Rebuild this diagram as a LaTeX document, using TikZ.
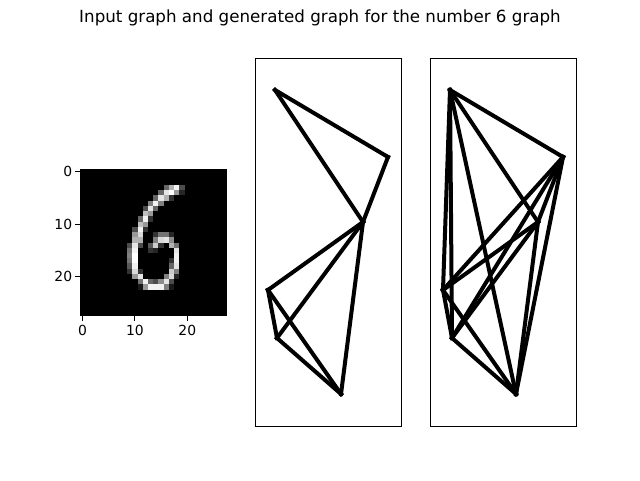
\documentclass[tikz,border=0pt]{standalone}
\usepackage{fontspec}
\setmainfont{DejaVu Sans}
\begin{document}
\begin{tikzpicture}[x=1pt,y=-1pt,
  edge/.style={line width=4pt,line cap=rect,line join=miter,black},
  frame/.style={line width=1.1pt,black},
  tick/.style={line width=1.1pt,black},
  ticklab/.style={inner sep=0pt,font=\fontsize{13.9}{16}\selectfont},
  titlelab/.style={inner sep=0pt,font=\fontsize{16.7}{20}\selectfont}]
\useasboundingbox (0,0) rectangle (640,480);
\fill[white] (0,0) rectangle (640,480);
% title
\node[titlelab,anchor=base] (title) at (320,22) {Input graph and generated graph for the number 6 graph};
% ---- image panel ----
\def\px{5.232}
\fill[black] (80,169.3) rectangle (226.5,315.8);
\foreach \r/\c/\v in {
3/16/40,3/17/70,3/18/95,3/19/30,
4/15/40,4/16/90,4/17/100,4/18/60,4/19/15,
5/14/40,5/15/90,5/16/70,5/17/20,
6/13/50,6/14/95,6/15/50,
7/12/30,7/13/90,7/14/40,
8/12/75,8/13/60,
9/11/40,9/12/95,9/13/20,
10/11/75,10/12/60,
11/10/30,11/11/95,11/12/20,
12/10/60,12/11/85,12/14/20,12/15/45,12/16/45,12/17/15,
13/10/70,13/11/70,13/14/50,13/15/85,13/16/90,13/17/55,
14/9/30,14/10/90,14/11/30,14/13/35,14/14/80,14/15/20,14/17/70,14/18/45,
15/9/45,15/10/95,15/13/20,15/14/15,15/18/90,
16/9/50,16/10/100,16/18/95,
17/9/45,17/10/100,17/17/20,17/18/95,
18/9/35,18/10/95,18/17/40,18/18/90,
19/9/20,19/10/85,19/11/20,19/17/80,19/18/50,
20/10/60,20/11/90,20/16/50,20/17/85,20/18/15,
21/11/45,21/12/95,21/13/40,21/14/30,21/15/55,21/16/90,21/17/30,
22/11/10,22/12/60,22/13/95,22/14/95,22/15/95,22/16/50,22/17/10}{
  \fill[white!\v!black] ({80+\c*\px},{169.3+\r*\px}) rectangle ({80+(\c+1)*\px},{169.3+(\r+1)*\px});
}
% ticks
\foreach \t/\n in {0/a,10/b,20/c}{
  \draw[tick] ({80+(\t+0.5)*\px},315.8) -- ({80+(\t+0.5)*\px},320.7);
  \node[ticklab,anchor=base] (xl\n) at ({80+(\t+0.5)*\px},335.3) {\t};
  \draw[tick] (80,{169.3+(\t+0.5)*\px}) -- (75.1,{169.3+(\t+0.5)*\px});
  \node[ticklab,anchor=east] (yl\n) at (72.3,{169.3+(\t+0.5)*\px}) {\t};
}
% ---- input graph ----
\draw[frame] (255.3,58.5) rectangle (401.7,426.7);
\coordinate (A1) at (275,90);
\coordinate (B1) at (388,157);
\coordinate (C1) at (363,222);
\coordinate (D1) at (268,290);
\coordinate (E1) at (277,338);
\coordinate (F1) at (341,394);
\foreach \u/\w in {A1/B1,A1/C1,B1/C1,C1/D1,C1/E1,C1/F1,D1/E1,D1/F1,E1/F1}{
  \draw[edge] (\u) -- (\w);
}
% ---- generated graph ----
\draw[frame] (430.3,58.5) rectangle (576.7,426.7);
\coordinate (A2) at (450,90);
\coordinate (B2) at (563,157);
\coordinate (C2) at (538,222);
\coordinate (D2) at (443,290);
\coordinate (E2) at (452,338);
\coordinate (F2) at (516,394);
\foreach \u/\w in {A2/B2,A2/C2,A2/D2,A2/E2,A2/F2,B2/C2,B2/D2,B2/E2,B2/F2,C2/D2,C2/E2,C2/F2,D2/E2,D2/F2,E2/F2}{
  \draw[edge] (\u) -- (\w);
}
\end{tikzpicture}
\end{document}
